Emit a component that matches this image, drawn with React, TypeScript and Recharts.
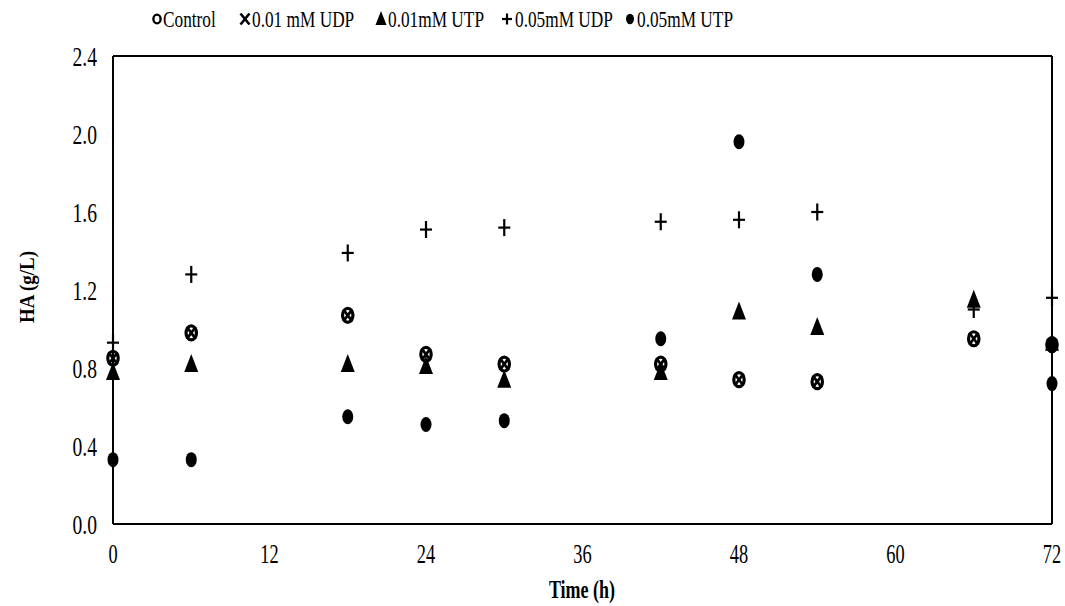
import React from 'react';
import { ScatterChart, Scatter, XAxis, YAxis, ReferenceLine } from 'recharts';

const FONT = "'Liberation Serif', 'Times New Roman', serif";

const times = [0, 6, 18, 24, 30, 42, 48, 54, 66, 72];
const control = [0.85, 0.98, 1.07, 0.87, 0.82, 0.82, 0.74, 0.73, 0.95, 0.92];
const udp001 = [0.85, 0.98, 1.07, 0.87, 0.82, 0.82, 0.74, 0.73, 0.95, 0.92];
const utp001 = [0.78, 0.82, 0.82, 0.81, 0.74, 0.78, 1.09, 1.01, 1.15, 0.93];
const udp005 = [0.93, 1.28, 1.39, 1.51, 1.52, 1.55, 1.56, 1.6, 1.1, 1.16];
const utp005: (number | null)[] = [0.33, 0.33, 0.55, 0.51, 0.53, 0.95, 1.96, 1.28, null, 0.72];

const xTicks = [0, 12, 24, 36, 48, 60, 72];
const yTicks = [0, 0.4, 0.8, 1.2, 1.6, 2.0, 2.4];
const legendLabels = ['Control', '0.01 mM UDP', '0.01mM UTP', '0.05mM UDP', '0.05mM UTP'];

const toData = (vals: (number | null)[]) =>
  times
    .map((t, i) => ({ t, v: vals[i] }))
    .filter((d) => d.v !== null && d.v !== undefined);

const OpenCircle = (p: any) => (
  <ellipse cx={p.cx} cy={p.cy} rx={5.2} ry={7} fill="none" stroke="#000" strokeWidth={3.2} />
);
const Cross = (p: any) => (
  <g stroke="#000" strokeWidth={2.6}>
    <line x1={p.cx - 4.5} y1={p.cy - 6} x2={p.cx + 4.5} y2={p.cy + 6} />
    <line x1={p.cx - 4.5} y1={p.cy + 6} x2={p.cx + 4.5} y2={p.cy - 6} />
  </g>
);
const Tri = (p: any) => (
  <polygon
    points={`${p.cx},${p.cy - 10} ${p.cx + 7},${p.cy + 8} ${p.cx - 7},${p.cy + 8}`}
    fill="#000"
  />
);
const Plus = (p: any) => (
  <g stroke="#000" strokeWidth={2.2}>
    <line x1={p.cx} y1={p.cy - 8.5} x2={p.cx} y2={p.cy + 8.5} />
    <line x1={p.cx - 6} y1={p.cy} x2={p.cx + 6} y2={p.cy} />
  </g>
);
const Dot = (p: any) => <ellipse cx={p.cx} cy={p.cy} rx={5.5} ry={7.5} fill="#000" />;

const YTick = (p: any) => (
  <text
    transform={`translate(${p.x},${p.y}) scale(0.7,1)`}
    textAnchor="end"
    dy="0.35em"
    fontFamily={FONT}
    fontSize={28}
    fill="#000"
  >
    {Number(p.payload.value).toFixed(1)}
  </text>
);
const XTick = (p: any) => (
  <text
    transform={`translate(${p.x},${p.y + 30}) scale(0.68,1)`}
    textAnchor="middle"
    dy="0.35em"
    fontFamily={FONT}
    fontSize={27}
    fill="#000"
  >
    {p.payload.value}
  </text>
);

const legendX = [157, 245, 381, 507, 630];
const legendTextX = [163, 252, 388, 515, 637];

const LegendMarker = ({ i, x, y }: { i: number; x: number; y: number }) => {
  if (i === 0)
    return <ellipse cx={x} cy={y} rx={3.6} ry={4.4} fill="none" stroke="#000" strokeWidth={2.4} />;
  if (i === 1)
    return (
      <g stroke="#000" strokeWidth={2.6}>
        <line x1={x - 4.5} y1={y - 5.5} x2={x + 4.5} y2={y + 5.5} />
        <line x1={x - 4.5} y1={y + 5.5} x2={x + 4.5} y2={y - 5.5} />
      </g>
    );
  if (i === 2)
    return <polygon points={`${x},${y - 8} ${x + 5.5},${y + 6} ${x - 5.5},${y + 6}`} fill="#000" />;
  if (i === 3)
    return (
      <g stroke="#000" strokeWidth={2.2}>
        <line x1={x} y1={y - 5.5} x2={x} y2={y + 5.5} />
        <line x1={x - 5} y1={y} x2={x + 5} y2={y} />
      </g>
    );
  return <ellipse cx={x} cy={y} rx={4} ry={5.2} fill="#000" />;
};

export default function App() {
  return (
    <div style={{ position: 'absolute', left: 0, top: 0, width: 1065, height: 606, background: '#fff' }}>
      <ScatterChart width={1065} height={606} margin={{ top: 56, right: 13, bottom: 0, left: 0 }}>
        <XAxis
          xAxisId="x"
          dataKey="t"
          type="number"
          domain={[0, 72]}
          ticks={xTicks}
          height={82}
          tickLine={false}
          tickSize={0}
          tickMargin={0}
          tick={<XTick />}
          axisLine={{ stroke: '#000', strokeWidth: 2 }}
        />
        <YAxis
          yAxisId="y"
          dataKey="v"
          type="number"
          domain={[0, 2.4]}
          ticks={yTicks}
          width={113}
          tickLine={false}
          tickSize={0}
          tickMargin={16}
          tick={<YTick />}
          axisLine={{ stroke: '#000', strokeWidth: 2 }}
        />
        <ReferenceLine xAxisId="x" yAxisId="y" y={2.4} stroke="#000" strokeWidth={2} />
        <ReferenceLine xAxisId="x" yAxisId="y" x={72} stroke="#000" strokeWidth={2} />
        <Scatter xAxisId="x" yAxisId="y" name="Control" data={toData(control)} shape={<OpenCircle />} isAnimationActive={false} />
        <Scatter xAxisId="x" yAxisId="y" name="0.01 mM UDP" data={toData(udp001)} shape={<Cross />} isAnimationActive={false} />
        <Scatter xAxisId="x" yAxisId="y" name="0.01mM UTP" data={toData(utp001)} shape={<Tri />} isAnimationActive={false} />
        <Scatter xAxisId="x" yAxisId="y" name="0.05mM UDP" data={toData(udp005)} shape={<Plus />} isAnimationActive={false} />
        <Scatter xAxisId="x" yAxisId="y" name="0.05mM UTP" data={toData(utp005)} shape={<Dot />} isAnimationActive={false} />
      </ScatterChart>
      <svg
        width={1065}
        height={606}
        style={{ position: 'absolute', left: 0, top: 0, pointerEvents: 'none' }}
      >
        {legendLabels.map((lab, i) => (
          <g key={lab}>
            <LegendMarker i={i} x={legendX[i]} y={19} />
            <text
              transform={`translate(${legendTextX[i]},27) scale(0.72,1)`}
              fontFamily={FONT}
              fontSize={24}
              fill="#000"
            >
              {lab}
            </text>
          </g>
        ))}
        <text
          transform="translate(582,589) scale(0.72,1)"
          textAnchor="middle"
          dy="0.35em"
          fontFamily={FONT}
          fontWeight="bold"
          fontSize={25}
          fill="#000"
        >
          Time (h)
        </text>
        <text
          transform="translate(27,287) rotate(-90) scale(0.9,1)"
          textAnchor="middle"
          dy="0.35em"
          fontFamily={FONT}
          fontWeight="bold"
          fontSize={21}
          fill="#000"
        >
          HA (g/L)
        </text>
      </svg>
    </div>
  );
}
